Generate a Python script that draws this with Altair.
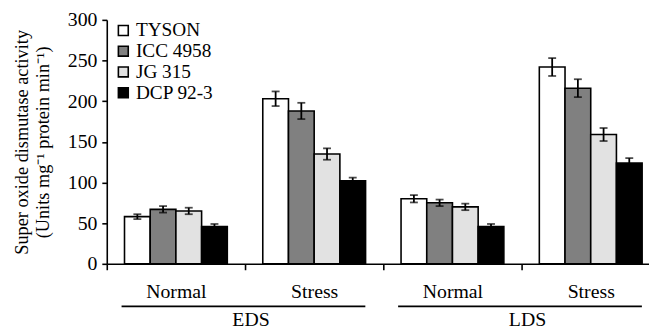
import altair as alt
import pandas as pd

cultivars = ["TYSON", "ICC 4958", "JG 315", "DCP 92-3"]
groups = ["EDS|Normal", "EDS|Stress", "LDS|Normal", "LDS|Stress"]
colors = ["#ffffff", "#808080", "#e2e2e2", "#000000"]

values = {
    "TYSON":    [58, 203, 80, 242],
    "ICC 4958": [67, 188, 75, 216],
    "JG 315":   [65, 135, 70, 159],
    "DCP 92-3": [46, 102, 46, 124],
}
errors = {
    "TYSON":    [3, 9, 4.5, 11],
    "ICC 4958": [4, 10, 4, 11],
    "JG 315":   [4, 7, 4, 8],
    "DCP 92-3": [3, 4, 3, 6],
}

rows = []
for c in cultivars:
    for g, v, e in zip(groups, values[c], errors[c]):
        rows.append({"group": g, "cultivar": c, "value": v, "lo": v - e, "hi": v + e})
df = pd.DataFrame(rows)

treat = pd.DataFrame([
    {"a": "EDS|Normal", "b": "EDS|Stress", "name": "EDS"},
    {"a": "LDS|Normal", "b": "LDS|Stress", "name": "LDS"},
])

FONT = "Liberation Serif, Times New Roman, serif"
H = 247

xscale = alt.Scale(domain=groups, range=[0, 560], paddingInner=0, paddingOuter=0)
xoff = alt.XOffset("cultivar:N", sort=cultivars,
                   scale=alt.Scale(domain=cultivars, paddingInner=0, paddingOuter=0.69))
yscale = alt.Scale(domain=[0, 300])

base = alt.Chart(df)

bars = base.mark_bar(stroke="black", strokeWidth=1.6).encode(
    x=alt.X("group:N", scale=xscale, sort=groups,
            axis=alt.Axis(title=None, labelExpr="split(datum.label, '|')[1]",
                          tickBand="extent", labelAngle=0, labelPadding=12,
                          tickSize=6, labelFontSize=20)),
    xOffset=xoff,
    y=alt.Y("value:Q", scale=yscale,
            axis=alt.Axis(values=[0, 50, 100, 150, 200, 250, 300], grid=False,
                          tickSize=5, labelFontSize=20, labelPadding=5,
                          title=["Super oxide dismutase activity",
                                 "(Units mg\u207b\u00b9 protein min\u207b\u00b9)"],
                          titleFontSize=18.5, titlePadding=15, titleLineHeight=21)),
    fill=alt.Fill("cultivar:N", sort=cultivars,
                  scale=alt.Scale(domain=cultivars, range=colors),
                  legend=alt.Legend(title=None, orient="none", legendX=7, legendY=1,
                                    symbolType="square", symbolSize=100,
                                    symbolStrokeColor="black", symbolStrokeWidth=1.6,
                                    labelFontSize=19.5, labelFont=FONT, labelColor="black",
                                    rowPadding=0, labelOffset=3, padding=0)),
)

err = base.mark_rule(color="black", strokeWidth=1.8).encode(
    x=alt.X("group:N", scale=xscale, sort=groups),
    xOffset=xoff,
    y=alt.Y("lo:Q", scale=yscale),
    y2="hi:Q",
)
cap_hi = base.mark_tick(color="black", thickness=1.8, size=8, orient="horizontal").encode(
    x=alt.X("group:N", scale=xscale, sort=groups),
    xOffset=xoff,
    y=alt.Y("hi:Q", scale=yscale),
)
cap_lo = base.mark_tick(color="black", thickness=1.8, size=8, orient="horizontal").encode(
    x=alt.X("group:N", scale=xscale, sort=groups),
    xOffset=xoff,
    y=alt.Y("lo:Q", scale=yscale),
)

tb = alt.Chart(treat)
lines = tb.mark_rule(color="black", strokeWidth=1.8).encode(
    x=alt.X("a:N", scale=xscale, sort=groups, bandPosition=0.107),
    x2=alt.X2("b:N", bandPosition=0.87),
    y=alt.value(H + 43),
)
labels = tb.mark_text(font=FONT, fontSize=20, color="black", baseline="middle", dx=6).encode(
    x=alt.X("b:N", scale=xscale, sort=groups, bandPosition=0),
    y=alt.value(H + 57),
    text="name:N",
)

chart = alt.layer(bars, err, cap_hi, cap_lo, lines, labels).properties(
    width=549, height=H,
    autosize=alt.AutoSizeParams(type="none"),
    padding={"left": 100, "top": 10, "right": 0, "bottom": 66},
    background="white",
).configure_view(stroke=None).configure_axis(
    domainColor="black", domainWidth=1.6, tickColor="black", tickWidth=1.6,
    labelFont=FONT, titleFont=FONT, labelColor="black", titleColor="black",
    titleFontWeight="normal",
)

chart.save("out.html", embed_options={"renderer": "svg", "actions": False})
